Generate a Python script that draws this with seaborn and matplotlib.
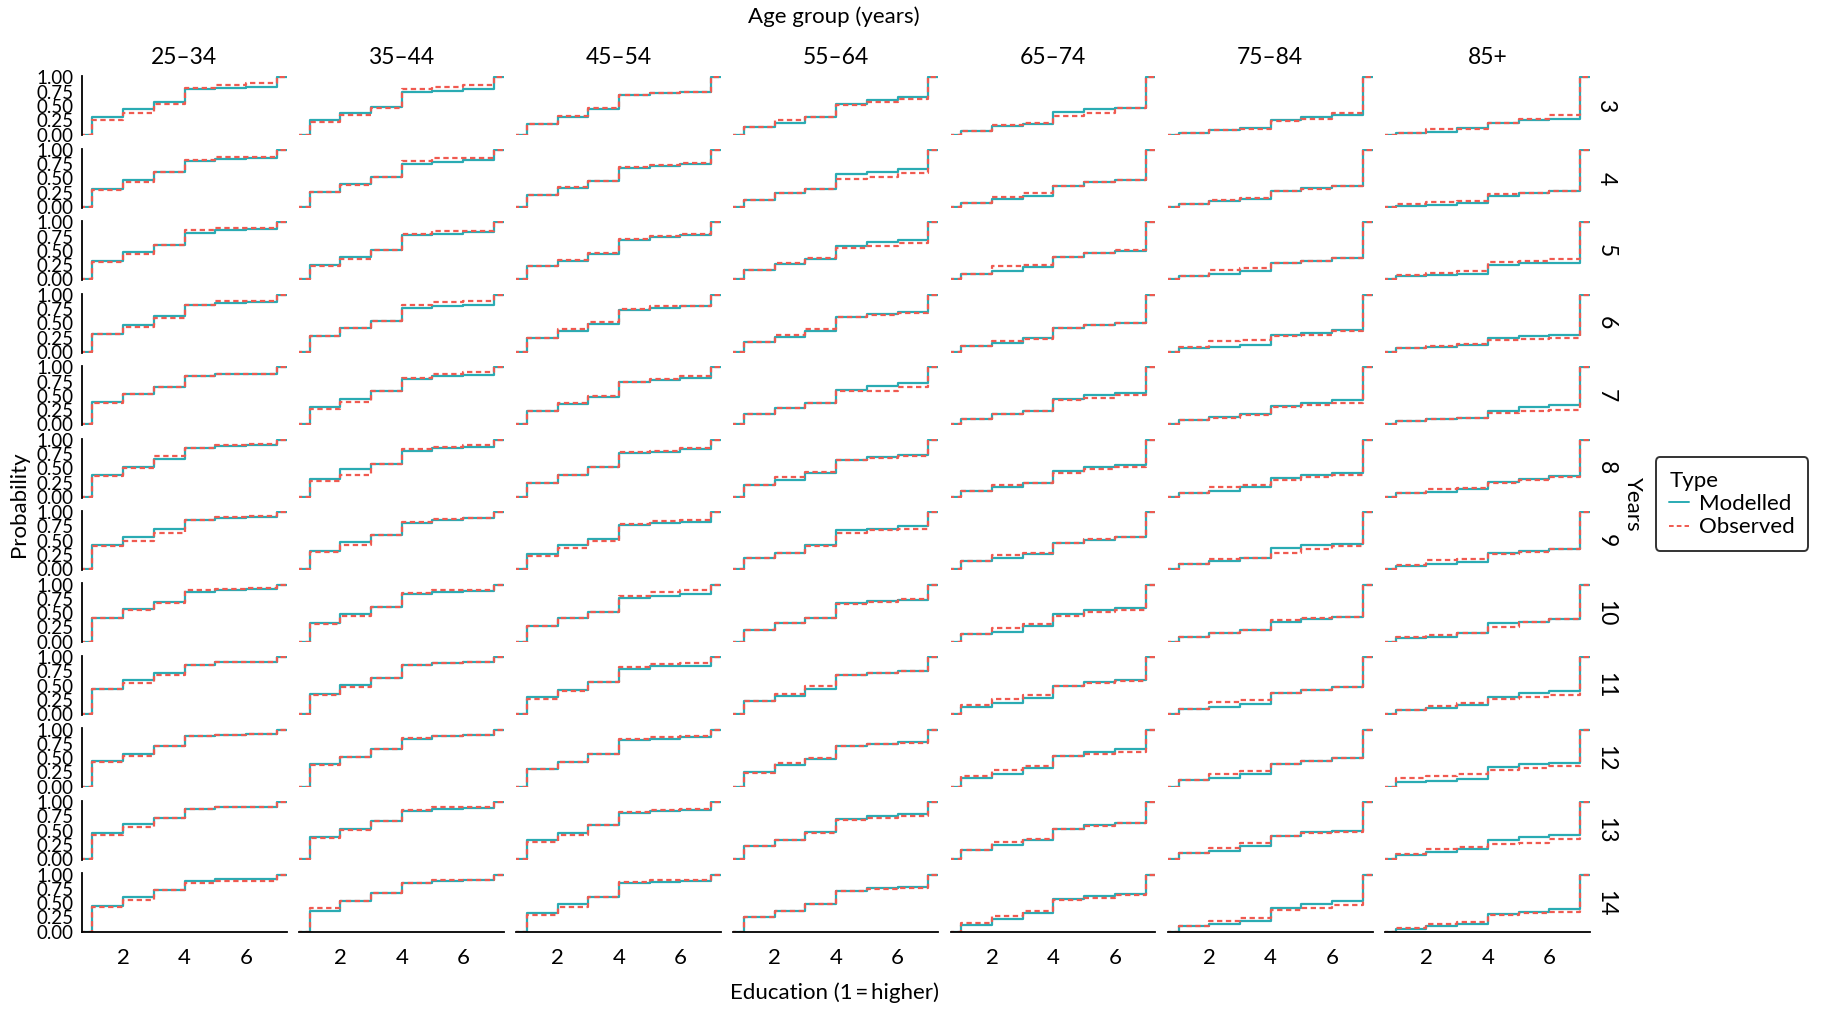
import matplotlib
matplotlib.use("Agg")
import matplotlib.pyplot as plt
from matplotlib.lines import Line2D
import pandas as pd
import seaborn as sns

# ---------------------------------------------------------------------------
# Data: cumulative probability of education level (1 = higher ... 7) by age
# group and years of follow-up. Each row lists levels 1-6; level 7 is 1.00.
# ---------------------------------------------------------------------------
age_groups = ["25–34", "35–44", "45–54", "55–64", "65–74", "75–84", "85+"]
years = [3, 4, 5, 6, 7, 8, 9, 10, 11, 12, 13, 14]
education_levels = [1, 2, 3, 4, 5, 6, 7]
x_ticks = [2, 4, 6]
y_ticks = [0.00, 0.25, 0.50, 0.75, 1.00]
types = ["Modelled", "Observed"]

modelled_25_34 = [
    [.30, .45, .57, .79, .82, .84], [.32, .48, .61, .81, .84, .86],
    [.32, .48, .60, .82, .86, .88], [.32, .48, .63, .83, .86, .88],
    [.39, .53, .66, .85, .88, .89], [.38, .53, .67, .85, .89, .91],
    [.42, .57, .70, .87, .90, .92], [.41, .58, .70, .87, .90, .93],
    [.44, .60, .72, .87, .92, .92], [.45, .58, .72, .88, .91, .93],
    [.45, .61, .72, .88, .92, .92], [.45, .61, .73, .88, .92, .92],
]
observed_25_34 = [
    [.25, .37, .53, .81, .86, .90], [.30, .44, .61, .82, .88, .88],
    [.31, .45, .60, .87, .90, .90], [.32, .43, .59, .83, .89, .89],
    [.38, .53, .66, .85, .89, .89], [.37, .51, .71, .85, .90, .93],
    [.41, .49, .64, .87, .92, .93], [.41, .55, .68, .91, .93, .94],
    [.44, .54, .69, .87, .92, .92], [.44, .53, .72, .88, .91, .93],
    [.43, .56, .72, .88, .91, .91], [.44, .56, .73, .86, .89, .89],
]
modelled_35_44 = [
    [.25, .38, .49, .75, .77, .80], [.27, .41, .53, .76, .79, .83],
    [.25, .39, .52, .77, .80, .83], [.27, .42, .55, .77, .80, .83],
    [.30, .45, .58, .80, .85, .87], [.31, .48, .58, .81, .85, .88],
    [.32, .48, .60, .81, .86, .90], [.33, .48, .61, .84, .88, .89],
    [.35, .52, .63, .86, .89, .91], [.39, .52, .66, .84, .88, .91],
    [.38, .53, .66, .85, .88, .89], [.37, .54, .67, .86, .89, .90],
]
observed_35_44 = [
    [.22, .35, .47, .79, .83, .86], [.26, .39, .53, .80, .85, .86],
    [.24, .36, .52, .80, .85, .85], [.27, .42, .55, .82, .87, .89],
    [.27, .40, .58, .82, .88, .91], [.27, .39, .58, .84, .88, .90],
    [.31, .43, .60, .83, .88, .90], [.32, .45, .61, .86, .90, .91],
    [.34, .47, .63, .87, .90, .91], [.38, .52, .66, .86, .89, .90],
    [.37, .51, .66, .86, .91, .91], [.41, .54, .67, .86, .90, .91],
]
modelled_45_54 = [
    [.19, .31, .44, .69, .73, .75], [.21, .33, .45, .68, .71, .75],
    [.23, .33, .45, .69, .74, .77], [.24, .37, .49, .74, .77, .80],
    [.24, .36, .48, .75, .78, .81], [.25, .38, .52, .76, .79, .83],
    [.27, .42, .53, .77, .81, .83], [.28, .41, .53, .77, .81, .83],
    [.30, .43, .56, .80, .84, .85], [.31, .44, .57, .81, .84, .87],
    [.33, .46, .59, .81, .84, .87], [.33, .49, .61, .85, .87, .88],
]
observed_45_54 = [
    [.19, .33, .46, .69, .72, .75], [.21, .35, .46, .70, .74, .77],
    [.23, .34, .46, .71, .76, .79], [.24, .40, .52, .76, .80, .81],
    [.24, .37, .49, .75, .80, .84], [.25, .38, .53, .78, .81, .85],
    [.24, .37, .50, .80, .85, .86], [.28, .41, .53, .81, .88, .90],
    [.27, .40, .56, .83, .88, .89], [.31, .44, .57, .84, .87, .89],
    [.30, .43, .59, .83, .87, .88], [.30, .44, .61, .87, .91, .91],
]
modelled_55_64 = [
    [.14, .21, .31, .54, .60, .65], [.13, .24, .32, .58, .62, .66],
    [.17, .27, .36, .59, .65, .69], [.18, .26, .37, .62, .67, .70],
    [.18, .28, .37, .61, .68, .73], [.20, .30, .42, .64, .70, .73],
    [.20, .29, .43, .68, .71, .75], [.20, .33, .42, .68, .71, .74],
    [.23, .32, .45, .68, .73, .76], [.25, .38, .48, .72, .75, .79],
    [.23, .34, .48, .70, .76, .79], [.25, .36, .49, .72, .76, .79],
]
observed_55_64 = [
    [.14, .25, .31, .51, .57, .62], [.13, .24, .32, .49, .52, .59],
    [.17, .29, .37, .55, .59, .64], [.18, .29, .41, .61, .65, .69],
    [.18, .29, .37, .58, .59, .65], [.20, .34, .43, .64, .68, .72],
    [.20, .29, .41, .64, .69, .71], [.20, .33, .42, .67, .70, .75],
    [.23, .36, .49, .68, .72, .76], [.24, .41, .51, .72, .75, .76],
    [.23, .34, .46, .68, .73, .76], [.25, .36, .49, .72, .75, .77],
]
modelled_65_74 = [
    [.07, .15, .19, .39, .44, .46], [.07, .14, .19, .36, .43, .47],
    [.09, .14, .21, .39, .47, .50], [.10, .15, .24, .42, .47, .51],
    [.10, .18, .24, .44, .52, .55], [.11, .18, .25, .46, .52, .55],
    [.14, .20, .26, .46, .51, .56], [.13, .17, .28, .49, .55, .59],
    [.13, .20, .29, .50, .57, .60], [.15, .22, .32, .53, .60, .66],
    [.16, .24, .33, .53, .60, .63], [.12, .22, .32, .57, .62, .66],
]
observed_65_74 = [
    [.06, .17, .21, .32, .38, .46], [.07, .18, .24, .36, .43, .47],
    [.09, .23, .26, .39, .47, .51], [.10, .19, .23, .42, .47, .50],
    [.10, .18, .24, .42, .46, .51], [.11, .21, .25, .42, .48, .53],
    [.14, .25, .29, .46, .53, .56], [.13, .24, .31, .45, .52, .56],
    [.16, .27, .34, .50, .55, .58], [.18, .29, .37, .53, .57, .60],
    [.16, .30, .35, .53, .58, .63], [.15, .27, .36, .55, .59, .64],
]
modelled_75_84 = [
    [.03, .08, .11, .25, .31, .34], [.06, .10, .14, .28, .33, .37],
    [.06, .09, .14, .28, .33, .37], [.06, .09, .12, .29, .33, .38],
    [.08, .13, .18, .33, .38, .42], [.06, .11, .18, .33, .38, .42],
    [.09, .15, .19, .38, .42, .45], [.08, .15, .20, .35, .40, .44],
    [.10, .13, .18, .37, .42, .48], [.11, .15, .22, .40, .45, .51],
    [.10, .15, .23, .40, .47, .50], [.10, .13, .18, .42, .49, .53],
]
observed_75_84 = [
    [.03, .08, .10, .23, .27, .37], [.06, .12, .15, .28, .31, .37],
    [.06, .17, .20, .28, .33, .37], [.08, .19, .21, .28, .30, .36],
    [.08, .12, .16, .30, .34, .38], [.06, .17, .21, .29, .35, .39],
    [.09, .18, .19, .28, .36, .40], [.08, .15, .21, .38, .41, .44],
    [.10, .22, .25, .37, .42, .48], [.11, .23, .27, .40, .45, .51],
    [.10, .20, .29, .40, .45, .48], [.10, .19, .24, .38, .42, .47],
]
modelled_85_plus = [
    [.02, .05, .11, .20, .26, .27], [.02, .03, .07, .19, .24, .28],
    [.06, .08, .10, .25, .29, .29], [.06, .08, .12, .24, .27, .29],
    [.06, .09, .12, .24, .30, .34], [.06, .09, .13, .26, .31, .36],
    [.05, .09, .13, .28, .32, .36], [.06, .08, .15, .33, .35, .40],
    [.07, .11, .16, .31, .37, .41], [.08, .10, .14, .34, .39, .42],
    [.07, .13, .18, .34, .39, .43], [.04, .10, .14, .31, .35, .40],
]
observed_85_plus = [
    [.02, .10, .10, .20, .27, .34], [.05, .08, .11, .23, .25, .28],
    [.07, .11, .14, .30, .33, .36], [.06, .10, .14, .21, .22, .25],
    [.06, .09, .12, .20, .23, .25], [.06, .13, .16, .25, .30, .35],
    [.07, .17, .18, .26, .31, .36], [.08, .12, .15, .25, .34, .40],
    [.08, .15, .20, .26, .30, .33], [.15, .19, .22, .29, .32, .37],
    [.09, .18, .21, .27, .29, .35], [.07, .14, .17, .29, .32, .35],
]

modelled_by_age = [modelled_25_34, modelled_35_44, modelled_45_54, modelled_55_64,
                   modelled_65_74, modelled_75_84, modelled_85_plus]
observed_by_age = [observed_25_34, observed_35_44, observed_45_54, observed_55_64,
                   observed_65_74, observed_75_84, observed_85_plus]

# Long table in ECDF form: padded with 0 before level 1 and 1 after level 7
records = []
x_pad = [0] + education_levels + [8]
for age, mod_rows, obs_rows in zip(age_groups, modelled_by_age, observed_by_age):
    for yr, m_vals, o_vals in zip(years, mod_rows, obs_rows):
        for typ, vals in zip(types, (m_vals, o_vals)):
            cum = [0.0] + list(vals) + [1.0, 1.0]
            for xv, pv in zip(x_pad, cum):
                records.append({"age": age, "years": yr, "type": typ,
                                "education": xv, "probability": pv})
df = pd.DataFrame.from_records(records)

# ---------------------------------------------------------------------------
# Styling
# ---------------------------------------------------------------------------
sns.set_theme(style="white")
plt.rcParams["font.family"] = ["Lato", "DejaVu Sans"]
plt.rcParams["axes.edgecolor"] = "black"
plt.rcParams["xtick.color"] = "black"
plt.rcParams["ytick.color"] = "black"
plt.rcParams["text.color"] = "black"

palette = {"Modelled": "#2AABB3", "Observed": "#F05A50"}
dash_map = {"Modelled": "", "Observed": (2.4, 1.6)}

fig, axes = plt.subplots(len(years), len(age_groups), figsize=(18.25, 10.09), dpi=100,
                         sharex=True, sharey=True)
fig.subplots_adjust(left=0.0447, right=0.8712, top=0.9245, bottom=0.076,
                    wspace=0.06, hspace=0.228)

for r, yr in enumerate(years):
    for c, age in enumerate(age_groups):
        ax = axes[r, c]
        sub = df[(df["age"] == age) & (df["years"] == yr)]
        sns.lineplot(data=sub, x="education", y="probability", hue="type", style="type",
                     hue_order=types, style_order=types, palette=palette, dashes=dash_map,
                     estimator=None, sort=False, drawstyle="steps-post", linewidth=1.6,
                     legend=False, ax=ax)
        ax.set_xlim(0.65, 7.32)
        ax.set_ylim(-0.012, 1.022)
        ax.set_xticks(x_ticks)
        ax.set_yticks(y_ticks)
        ax.set_yticklabels([f"{v:.2f}" for v in y_ticks])
        ax.set_xlabel("")
        ax.set_ylabel("")
        for side in ("top", "right"):
            ax.spines[side].set_visible(False)
        ax.spines["left"].set_linewidth(1.3)
        ax.spines["bottom"].set_linewidth(1.3)
        ax.tick_params(axis="y", length=4, width=1.2, pad=1.5, labelsize=13.5)
        ax.tick_params(axis="x", length=5.5, width=1.2, pad=6, labelsize=16)
        if c != 0:
            ax.spines["left"].set_visible(False)
            ax.tick_params(axis="y", left=False, labelleft=False)
        if r != len(years) - 1:
            ax.spines["bottom"].set_visible(False)
            ax.tick_params(axis="x", bottom=False, labelbottom=False)
        if c == len(age_groups) - 1:
            ax.text(1.078, 0.5, str(yr), transform=ax.transAxes, rotation=-90,
                    ha="center", va="center", fontsize=16.5)
        if r == 0:
            ax.text(0.5, 1.31, age, transform=ax.transAxes, ha="center", va="center",
                    fontsize=16.5)

fig.text(0.457, 0.983, "Age group (years)", ha="center", va="center", fontsize=16)
fig.text(0.457, 0.016, "Education (1\u2009=\u2009higher)", ha="center", va="center",
         fontsize=16)
fig.text(0.0105, 0.5, "Probability", rotation=90, ha="center", va="center", fontsize=16)
fig.text(0.8948, 0.5, "Years", rotation=-90, ha="center", va="center", fontsize=16)

handles = [Line2D([], [], color=palette["Modelled"], linewidth=1.4),
           Line2D([], [], color=palette["Observed"], linewidth=1.4, linestyle=(0, (2.4, 1.6)))]
leg = fig.legend(handles, types, title="Type", loc="center left",
                 bbox_to_anchor=(0.9074, 0.5005), borderaxespad=0, frameon=True,
                 fancybox=True, edgecolor="black", alignment="left", handlelength=0.9,
                 handletextpad=0.45, fontsize=16, title_fontsize=16, labelspacing=0.15,
                 borderpad=0.6)
leg.get_frame().set_linewidth(1.4)

fig.savefig("out.png", dpi=100)
